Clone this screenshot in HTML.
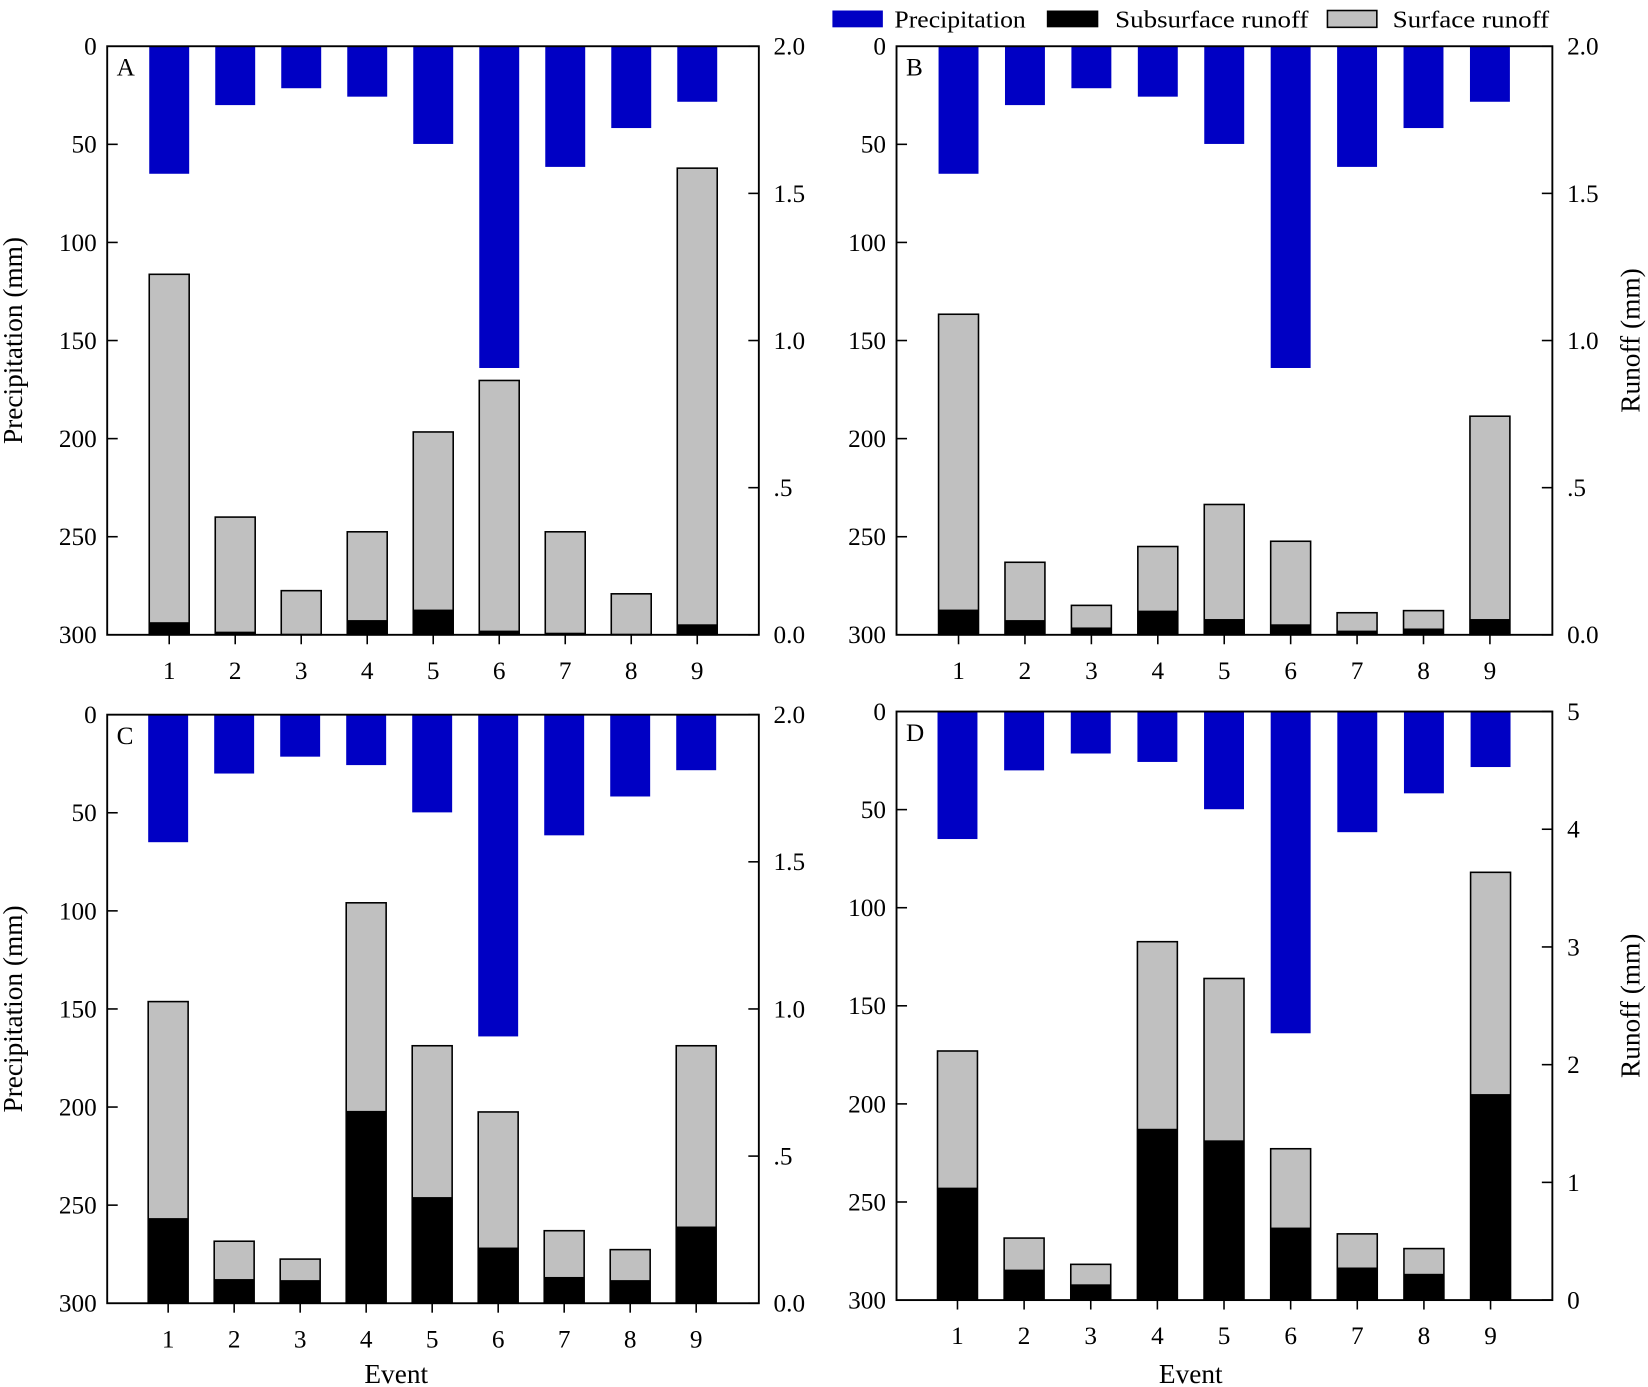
<!DOCTYPE html>
<html><head><meta charset="utf-8"><style>
html,body{margin:0;padding:0;background:#fff}
svg{display:block}
svg text{font-family:"Liberation Serif","Times New Roman",serif;fill:#000}
</style></head><body>
<svg id="s" width="1648" height="1387" viewBox="0 0 1568 1319.7" preserveAspectRatio="none" xmlns="http://www.w3.org/2000/svg" font-family="Liberation Serif, serif"></svg>
<script>
const s=document.getElementById('s');
let h='';
const F='font-family="Liberation Serif, Times New Roman, serif"';
const precip=[65,30,21.4,25.7,49.8,164,61.5,41.7,28.3];
const panels=[
 {L:102,R:722,T:44,B:604,c0:161,dc:62.8,lab:'A',rmax:2,
  tot:[261,492,562,506,411,362,506,565,160],sub:[592,601,603,590,580,600,602,603,594],leftLab:true,rightLab:false},
 {L:853,R:1477,T:44,B:604,c0:912,dc:63.2,lab:'B',rmax:2,
  tot:[299,535,576,520,480,515,583,581,396],sub:[580,590,597,581,589,594,600,598,589],leftLab:false,rightLab:true},
 {L:102,R:722,T:680,B:1240,c0:160,dc:62.8,lab:'C',rmax:2,
  tot:[953,1181,1198,859,995,1058,1171,1189,995],sub:[1159,1217,1218,1057,1139,1187,1215,1218,1167],leftLab:true,rightLab:false,ev:377},
 {L:853,R:1477,T:677,B:1237,c0:911,dc:63.4,lab:'D',rmax:5,
  tot:[1000,1178,1203,896,931,1093,1174,1188,830],sub:[1130,1208,1222,1074,1085,1168,1206,1212,1041],leftLab:false,rightLab:true,ev:1133}
];
panels.forEach(p=>{
 const H=p.B-p.T, w=38;
 for(let i=0;i<9;i++){
  const cx=p.c0+p.dc*i, x=cx-w/2;
  const py=p.T+precip[i]*H/300;
  h+=`<rect x="${x}" y="${p.T}" width="${w}" height="${py-p.T}" fill="#0000c4"/>`;
  h+=`<rect x="${x}" y="${p.tot[i]}" width="${w}" height="${p.B-p.tot[i]}" fill="#c0c0c0" stroke="#000" stroke-width="1.5"/>`;
  h+=`<rect x="${x}" y="${p.sub[i]}" width="${w}" height="${p.B-p.sub[i]}" fill="#000"/>`;
  h+=`<line x1="${cx}" y1="${p.B}" x2="${cx}" y2="${p.B+9}" stroke="#000" stroke-width="1.5"/>`;
  h+=`<text ${F} x="${cx}" y="${p.B+42}" font-size="24" text-anchor="middle">${i+1}</text>`;
 }
 h+=`<rect x="${p.L}" y="${p.T}" width="${p.R-p.L}" height="${H}" fill="none" stroke="#000" stroke-width="1.8"/>`;
 for(let k=0;k<=6;k++){
  const y=p.T+k*H/6;
  if(k>0&&k<6) h+=`<line x1="${p.L}" y1="${y}" x2="${p.L+10}" y2="${y}" stroke="#000" stroke-width="1.5"/>`;
  h+=`<text ${F} x="${p.L-10}" y="${y+8}" font-size="24" text-anchor="end">${k*50}</text>`;
 }
 const n=p.rmax==2?4:5;
 for(let k=0;k<=n;k++){
  const y=p.B-k*H/n;
  h+=`<line x1="${p.R}" y1="${y}" x2="${p.R-10}" y2="${y}" stroke="#000" stroke-width="1.5"/>`;
  let t=p.rmax==2?['0.0','.5','1.0','1.5','2.0'][k]:String(k);
  h+=`<text ${F} x="${p.R+14}" y="${y+8}" font-size="24">${t}</text>`;
 }
 h+=`<text ${F} x="${p.L+9}" y="${p.T+28}" font-size="24">${p.lab}</text>`;
 const mid=(p.T+p.B)/2;
 if(p.leftLab) h+=`<text ${F} transform="translate(21,${mid}) rotate(-90)" font-size="26" text-anchor="middle">Precipitation (mm)</text>`;
 if(p.rightLab) h+=`<text ${F} transform="translate(1560,${mid}) rotate(-90)" font-size="26" text-anchor="middle">Runoff (mm)</text>`;
 if(p.ev) h+=`<text ${F} x="${p.ev}" y="1316" font-size="26" text-anchor="middle">Event</text>`;
});
h+=`<rect x="792" y="10" width="48" height="16" fill="#0000c4"/>`;
h+=`<text ${F} x="851" y="26" font-size="23" textLength="125" lengthAdjust="spacingAndGlyphs">Precipitation</text>`;
h+=`<rect x="996" y="10" width="49" height="16" fill="#000"/>`;
h+=`<text ${F} x="1061" y="26" font-size="23" textLength="184" lengthAdjust="spacingAndGlyphs">Subsurface runoff</text>`;
h+=`<rect x="1263" y="10" width="47" height="16" fill="#c0c0c0" stroke="#000" stroke-width="1.5"/>`;
h+=`<text ${F} x="1325" y="26" font-size="23" textLength="149" lengthAdjust="spacingAndGlyphs">Surface runoff</text>`;
s.innerHTML=h;
</script>
</body></html>
